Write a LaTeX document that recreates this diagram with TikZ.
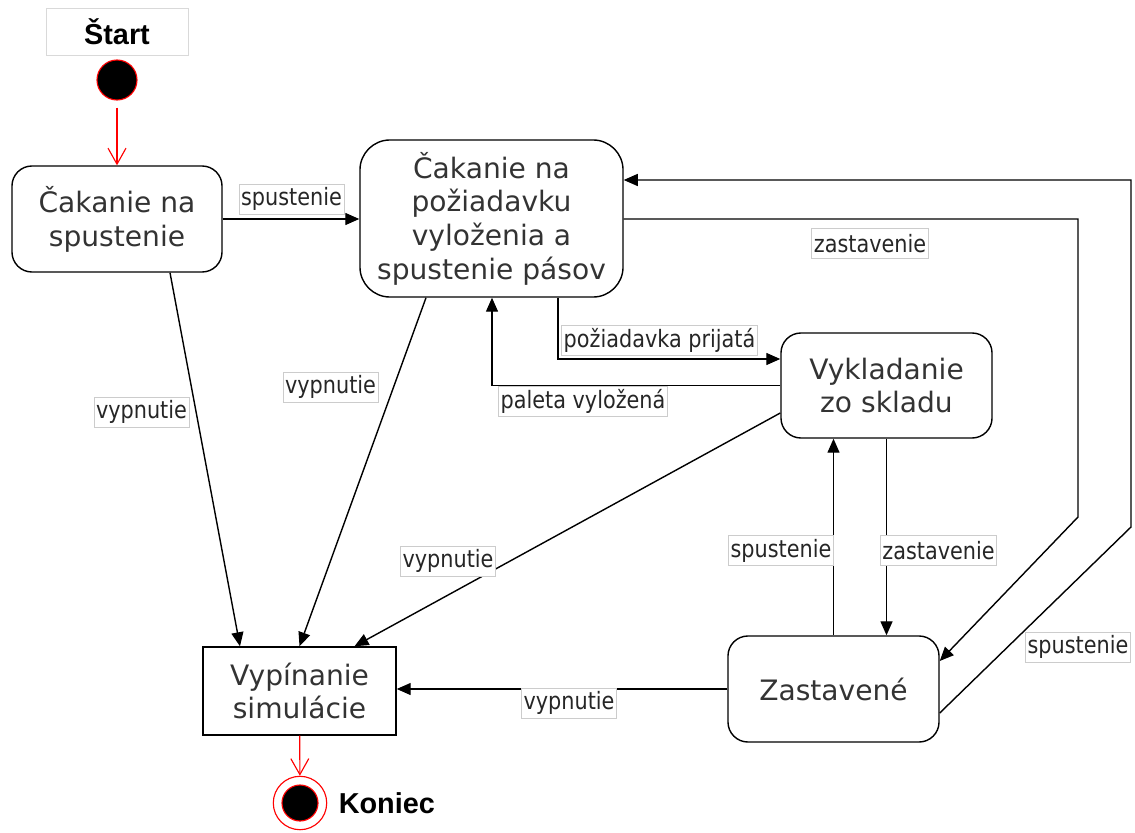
\documentclass[tikz,border=0pt]{standalone}
\usepackage{fontspec}
\setmainfont{DejaVu Sans}
\newfontfamily\lblfont{DejaVu Sans}[FakeStretch=0.87]
\newfontfamily\headfont{Liberation Sans}
\usetikzlibrary{arrows.meta,calc,positioning}

\begin{document}
\begin{tikzpicture}[x=0.025cm, y=-0.025cm,
  state/.style={draw, line width=1pt, rounded corners=0.5cm, align=center, inner sep=0pt,
    text=black!80, font=\fontsize{20}{24}\selectfont},
  lbl/.style={fill=white, draw=black!20, line width=0.5pt, inner xsep=1.5pt, inner ysep=0pt,
    minimum height=0.75cm, text=black!85, font=\lblfont\fontsize{17}{20}\selectfont},
  head/.style={inner sep=0pt, font=\headfont\bfseries\fontsize{20.5}{24}\selectfont},
  tr/.style={-{Triangle[length=3.5mm,width=3mm]}, line width=1pt},
  ini/.style={-{Straight Barb[length=4mm,width=4.5mm]}, red, line width=0.8pt}]
\useasboundingbox (0,0) rectangle (1135,833);
% states
\node[head, draw=black!15, line width=0.5pt, minimum width=3.55cm, minimum height=1.175cm] (T0) at (117,31.5) {Štart};
\node[circle, draw=red, fill=black, minimum size=1cm, line width=0.8pt] (S0) at (117,80) {};
\node[state, minimum width=5.25cm, minimum height=2.65cm] (S1) at (117,219) {Čakanie na\\spustenie};
\node[state, minimum width=6.575cm, minimum height=3.925cm, rounded corners=0.75cm] (S2) at (491.5,218.5) {Čakanie na\\požiadavku\\vyloženia a\\spustenie pásov};
\node[state, minimum width=5.275cm, minimum height=2.625cm] (S3) at (886.5,385.5) {Vykladanie\\zo skladu};
\node[state, minimum width=5.275cm, minimum height=2.65cm] (S4) at (833.5,689) {Zastavené};
\node[state, rounded corners=0pt, minimum width=4.825cm, minimum height=2.2cm] (S5) at (299.5,691) {Vypínanie\\simulácie};
\node[circle, draw=red, fill=white, minimum size=1.335cm, line width=0.8pt] (SF) at (300,803) {};
\node[circle, draw=red, fill=black, minimum size=0.9cm, line width=0.8pt] (SF0) at (SF) {};
\node[head, right=0.28cm of SF] (T1) {Koniec};
% transitions
\draw[ini, shorten <=5pt] (S0) -- (S1);
\draw[tr] (S1.east) -- (S1.east -| S2.west) node[lbl] (L1) at (291.5,199) {spustenie};
\draw[tr] ($(S1.south)+(53,0)$) -- ($(S5.north)+(-59.5,0)$) node[lbl] (L2) at (141.5,412) {vypnutie};
\draw[tr] ($(S2.south)+(-65.5,0)$) -- (S5.north) node[lbl] (L3) at (330.5,387) {vypnutie};
\draw[tr] ($(S3.west)+(0,27.5)$) -- ($(S5.north)+(55,0)$) node[lbl] (L4) at (448,561) {vypnutie};
\draw[tr] (S4.west) -- (S4.west -| S5.east) node[lbl] (L5) at (569,703) {vypnutie};
\draw[tr] ($(S2.south)+(66.5,0)$) |- ($(S3.west)+(0,-26.5)$) node[lbl] (L6) at (659.5,340.5) {požiadavka prijatá};
\draw[tr] (S3.west) -| ($(S2.south)+(0.5,0)$) node[lbl] (L7) at (583,401.5) {paleta vyložená};
\draw[tr] ($(S2.east)+(0,0.5)$) -| (1078,517) -- ($(S4.east)+(0,-28)$) node[lbl] (L8) at (870,243.5) {zastavenie};
\draw[tr] ($(S4.east)+(0,24)$) -- (1131,527) |- ($(S2.east)+(0,-38.5)$) node[lbl] (L9) at (1078,647) {spustenie};
\draw[tr] (S4.north) -- (S4.north |- S3.south) node[lbl] (L10) at (781,550.5) {spustenie};
\draw[tr] (S3.south) -- (S3.south |- S4.north) node[lbl] (L11) at (938.5,550.5) {zastavenie};
\draw[ini] (S5) -- (SF);
\end{tikzpicture}
\end{document}
